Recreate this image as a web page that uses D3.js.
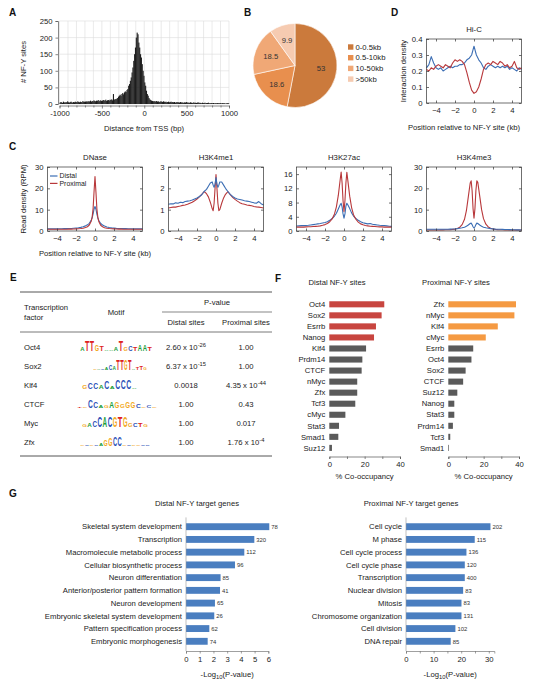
<!DOCTYPE html>
<html><head><meta charset="utf-8">
<script src="https://cdn.jsdelivr.net/npm/d3@7"></script>
<style>
body{margin:0;background:#fff}
svg{font-family:"Liberation Sans",Arial,sans-serif}
</style></head><body>
<svg id="fig" width="533" height="689"></svg>
<script>
// ================= DATA =================
// Panel A: histogram of NF-Y sites vs distance to TSS, 10-bp bins from -1000
const histStart = -1000, histBinWidth = 10;
const histCounts = [
 4,6,5,3,7,5,4,6,5,8,5,4,6,7,5,4,6,5,7,6,5,8,6,5,7,6,5,9,6,7,
 7,8,6,9,7,8,10,7,9,8,11,9,8,10,9,12,8,10,11,9,10,12,11,10,13,9,11,12,10,13,
 12,14,11,30,13,15,14,16,18,22,
 25,28,24,30,33,29,35,38,36,42,
 45,55,60,70,80,95,110,130,150,170,
 200,215,210,185,170,150,140,120,100,85,
 65,55,40,30,25,18,14,12,10,9,
 8,9,7,8,9,7,8,6,7,8,7,6,8,7,6,7,5,6,7,5,6,7,5,6,5,6,4,5,6,5,
 5,4,6,5,4,5,3,5,4,6,4,5,3,4,5,4,3,4,5,3,4,3,4,5,3,4,3,2,4,3,
 3,4,2,3,3,4,2,3,2,3,2,3,2,2,3,2,3,2,2,3,2,2,3,2,2,1,2,2,3,2
];
const histXTicks = [-1000,-500,0,500,1000];
const histYTicks = [0,50,100,150,200,250];

// Panel B: pie
const pieValues = [53, 18.6, 18.5, 9.9];
const pieLabels = ['0-0.5kb','0.5-10kb','10-50kb','>50kb'];

// Panel C: profiles around NF-Y sites (kb)
const profilePos = [-5,-4.75,-4.5,-4.25,-4,-3.75,-3.5,-3.25,-3,-2.75,-2.5,-2.25,-2,-1.75,-1.5,-1.25,-1,
 -0.8,-0.6,-0.4,-0.3,-0.2,-0.1,0,0.1,0.2,0.3,0.4,0.6,0.8,
 1,1.25,1.5,1.75,2,2.25,2.5,2.75,3,3.25,3.5,3.75,4,4.25,4.5,4.75,5];
const dnaseDistal = [1.0,1.0,1.0,1.0,1.0,1.05,1.05,1.1,1.1,1.15,1.2,1.3,1.4,1.5,1.7,2.0,2.4,
 2.9,3.6,5.0,6.2,8.0,10.3,11.5,10.2,7.9,6.1,4.9,3.5,2.8,
 2.3,1.9,1.6,1.45,1.35,1.25,1.2,1.15,1.1,1.1,1.05,1.05,1.0,1.0,1.0,1.0,1.0];
const dnaseProx = [0.8,0.8,0.8,0.8,0.8,0.8,0.85,0.85,0.85,0.9,0.9,0.95,1.0,1.05,1.15,1.3,1.6,
 2.0,2.8,4.6,6.5,10.5,18.5,25.5,18.3,10.3,6.4,4.5,2.7,1.95,
 1.55,1.3,1.15,1.05,1.0,0.95,0.9,0.9,0.85,0.85,0.85,0.8,0.8,0.8,0.8,0.8,0.8];
const k4me1Distal = [1.25,1.28,1.27,1.32,1.3,1.35,1.33,1.38,1.4,1.42,1.45,1.5,1.55,1.62,1.7,1.85,1.95,
 2.1,2.25,2.3,2.15,2.05,2.2,2.5,2.2,2.05,2.15,2.3,2.3,2.15,
 2.0,1.85,1.72,1.62,1.55,1.5,1.48,1.45,1.42,1.4,1.38,1.35,1.32,1.3,1.38,1.28,1.22];
const k4me1Prox = [1.08,1.1,1.12,1.12,1.15,1.17,1.2,1.22,1.25,1.3,1.35,1.42,1.5,1.6,1.72,1.85,1.75,
 1.6,1.35,1.05,0.95,1.3,2.0,2.65,2.0,1.3,0.95,1.0,1.3,1.55,
 1.72,1.85,1.7,1.58,1.48,1.4,1.33,1.28,1.25,1.22,1.2,1.18,1.15,1.13,1.12,1.1,1.08];
const k27acDistal = [1.4,1.45,1.5,1.5,1.55,1.6,1.7,1.8,1.9,2.0,2.1,2.25,2.4,2.6,3.0,3.5,4.2,
 5.0,6.2,7.4,7.8,6.8,4.8,3.6,4.8,7.0,7.8,7.4,6.3,5.1,
 4.2,3.5,3.0,2.6,2.3,2.15,2.0,2.1,1.9,1.8,1.7,1.6,1.55,1.5,1.45,1.35,1.3];
const k27acProx = [1.1,1.1,1.1,1.1,1.15,1.2,1.2,1.25,1.3,1.35,1.45,1.6,1.8,2.1,2.6,3.4,4.8,
 6.8,10.0,14.5,16.6,13.5,8.5,5.5,8.5,13.5,16.5,14.3,9.8,6.6,
 4.6,3.3,2.5,2.0,1.75,1.55,1.45,1.35,1.3,1.25,1.2,1.15,1.15,1.1,1.1,1.1,1.1];
const k4me3Distal = [0.8,0.8,0.8,0.8,0.8,0.8,0.8,0.85,0.85,0.85,0.9,0.95,1.0,1.1,1.3,1.5,1.8,
 2.2,2.8,3.5,3.7,3.0,2.0,1.4,2.0,3.0,3.7,3.5,2.8,2.2,
 1.8,1.5,1.3,1.1,1.0,0.9,0.85,0.8,0.75,0.7,0.7,0.65,0.6,0.6,0.55,0.55,0.5];
const k4me3Prox = [0.5,0.5,0.5,0.5,0.5,0.5,0.55,0.55,0.6,0.6,0.65,0.75,0.9,1.2,1.8,3.0,5.5,
 9.5,16.0,22.5,23.5,19.0,10.5,6.0,10.5,19.0,23.5,22.8,16.5,10.0,
 5.8,3.2,1.9,1.3,0.95,0.75,0.65,0.6,0.6,0.55,0.55,0.5,0.5,0.5,0.5,0.5,0.5];

// Panel D: Hi-C
const hicPos = [-5,-4.75,-4.5,-4.25,-4,-3.75,-3.5,-3.25,-3,-2.75,-2.5,-2.25,-2,-1.75,-1.5,-1.25,-1,-0.75,-0.5,-0.25,
 0,0.25,0.5,0.75,1,1.25,1.5,1.75,2,2.25,2.5,2.75,3,3.25,3.5,3.75,4,4.25,4.5,4.75,5];
const hicDistal = [0.22,0.24,0.29,0.25,0.22,0.21,0.22,0.2,0.21,0.22,0.23,0.22,0.23,0.23,0.24,0.24,0.25,0.27,0.28,0.3,
 0.355,0.3,0.27,0.25,0.22,0.21,0.23,0.24,0.23,0.22,0.23,0.22,0.23,0.22,0.23,0.21,0.22,0.21,0.2,0.22,0.21];
const hicProx = [0.21,0.2,0.22,0.21,0.23,0.24,0.23,0.22,0.24,0.23,0.22,0.25,0.27,0.26,0.27,0.26,0.24,0.19,0.13,0.08,
 0.06,0.07,0.1,0.15,0.21,0.24,0.25,0.24,0.26,0.25,0.24,0.26,0.25,0.23,0.24,0.22,0.23,0.26,0.22,0.21,0.22];

// Panel E: motif table
const tfNames = ['Oct4','Sox2','Klf4','CTCF','Myc','Zfx'];
const distalP = [['2.60 x 10','-26'],['6.37 x 10','-15'],['0.0018',''],['1.00',''],['1.00',''],['1.00','']];
const proximalP = [['1.00',''],['1.00',''],['4.35 x 10','-44'],['0.43',''],['0.017',''],['1.76 x 10','-4']];
const motifLetters = ['ATTGTAAATGCTAAT','GACACATTGTATTG','GCCACACCCA','TGCCAGAGGGGCGCG','GACCACGTGGCTG','GCGCAGGCCGCGGCC'];
const motifHeights = [
 [.35,1,.9,.55,.5,.15,.15,.3,1,.4,.45,.4,.55,.55,.3],
 [.05,.05,.05,.2,.45,.3,1,1,.95,1,.15,.2,.35,.25],
 [.3,.6,.6,.3,.75,.2,.85,.85,.85,.15],
 [.05,.1,.7,.55,.2,.2,.55,.6,.4,.6,.6,.3,.15,.2,.1],
 [.2,.35,.6,.9,.9,.9,.9,.9,.9,.3,.3,.3,.2],
 [.05,.1,.05,.1,.2,.55,.75,.8,.8,.15,.1,.15,.1,.1,.05]
];

// Panel F: co-occupancy
const distalTF = ['Oct4','Sox2','Esrrb','Nanog','Klf4','Prdm14','CTCF','nMyc','Zfx','Tcf3','cMyc','Stat3','Smad1','Suz12'];
const distalOcc = [31.1,29.6,26.4,25.3,20.8,18.7,18.3,15.8,15.8,14.7,9.1,5.5,5.1,1.5];
const proxTF = ['Zfx','nMyc','Klf4','cMyc','Esrrb','Oct4','Sox2','CTCF','Suz12','Nanog','Stat3','Prdm14','Tcf3','Smad1'];
const proxOcc = [38.3,37.4,28.0,21.2,14.1,13.1,9.8,8.4,5.1,3.4,3.4,2.6,1.1,0.4];
const occTicks = [0,20,40];

// Panel G: GO terms
const distalGO = ['Skeletal system development','Transcription','Macromolecule metabolic process','Cellular biosynthetic process','Neuron differentiation','Anterior/posterior pattern formation','Neuron development','Embryonic skeletal system development','Pattern specification process','Embryonic morphogenesis'];
const distalLogP = [6.07,4.98,4.25,3.57,2.52,2.48,2.11,2.06,1.70,1.58];
const distalCount = [78,320,112,96,85,41,65,26,62,74];
const proxGO = ['Cell cycle','M phase','Cell cycle process','Cell cycle phase','Transcription','Nuclear division','Mitosis','Chromosome organization','Cell division','DNA repair'];
const proxLogP = [30.6,24.9,21.9,21.3,21.3,20.7,20.1,20.1,17.9,16.2];
const proxCount = [202,115,136,120,400,83,83,131,102,85];

// ================= DRAW =================
const svg = d3.select('#fig');
svg.append('rect').attr('width',533).attr('height',689).attr('fill','#fff');
const TXT = '#222', BLUE = '#3C6EB4', RED = '#B8383B';
const FS = 7.7;

function panelLabel(x,y,t){
  svg.append('text').attr('x',x).attr('y',y).attr('font-size',10).attr('font-weight','bold').attr('fill','#111').text(t);
}
function txt(x,y,t,opt={}){
  return svg.append('text').attr('x',x).attr('y',y).attr('font-size',opt.fs||FS)
    .attr('text-anchor',opt.anchor||'start').attr('fill',opt.fill||TXT).text(t);
}
function vtxt(x,y,t,fs){
  svg.append('text').attr('transform',`translate(${x},${y}) rotate(-90)`).attr('text-anchor','middle')
   .attr('font-size',fs||FS).attr('fill',TXT).text(t);
}
function styleAxis(g, color, fs){
  g.selectAll('text').attr('font-size',fs||FS).attr('fill',TXT).attr('font-family','"Liberation Sans",Arial,sans-serif');
  g.selectAll('line').attr('stroke',color||'#444').attr('stroke-width',0.7);
  g.select('.domain').attr('stroke',color||'#444').attr('stroke-width',0.7);
}

// ---------- Panel A ----------
panelLabel(9,16,'A');
{
  const x = d3.scaleLinear().domain([-1000,1000]).range([59.5,229]);
  const y = d3.scaleLinear().domain([0,250]).range([104,21]);
  const g = svg.append('g');
  g.selectAll('line.vg').data(d3.range(-1000,1001,100)).join('line')
    .attr('x1',d=>x(d)).attr('x2',d=>x(d)).attr('y1',y(250)).attr('y2',y(0)).attr('stroke','#dcdcdc').attr('stroke-width',0.6);
  g.selectAll('line.hg').data(histYTicks).join('line')
    .attr('x1',x(-1000)).attr('x2',x(1000)).attr('y1',d=>y(d)).attr('y2',d=>y(d)).attr('stroke','#dcdcdc').attr('stroke-width',0.6);
  const bw = x(histBinWidth)-x(0);
  g.selectAll('rect.bar').data(histCounts).join('rect')
    .attr('x',(d,i)=>x(histStart+i*histBinWidth)).attr('width',bw+0.25)
    .attr('y',d=>y(d)).attr('height',d=>y(0)-y(d)).attr('fill','#1e1e1e');
  const ya = svg.append('g').attr('transform',`translate(${x(-1000)-1.5},0)`)
    .call(d3.axisLeft(y).tickValues(histYTicks).tickSize(2.5).tickPadding(3));
  styleAxis(ya,'#555');
  const xa = svg.append('g').attr('transform',`translate(0,${y(0)+1.5})`)
    .call(d3.axisBottom(x).tickValues(d3.range(-1000,1001,100)).tickSize(2).tickFormat(d=>histXTicks.includes(d)?d:''));
  styleAxis(xa,'#555');
  xa.selectAll('.tick').filter(d=>histXTicks.includes(d)).select('line').attr('y2',3);
  vtxt(26,62,'# NF-Y sites');
  txt(144,131,'Distance from TSS (bp)',{anchor:'middle'});
}

// ---------- Panel B ----------
panelLabel(244,16,'B');
{
  const pieColors = ['#CB7A3C','#E88F4E','#F0A876','#F6CBB1'];
  const cx = 295, cy = 65.5, r = 42;
  const arcs = d3.pie().sort(null).value(d=>d)(pieValues);
  const arc = d3.arc().innerRadius(0).outerRadius(r);
  const g = svg.append('g').attr('transform',`translate(${cx},${cy})`);
  g.selectAll('path').data(arcs).join('path').attr('d',arc).attr('fill',(d,i)=>pieColors[i])
    .attr('stroke','#fff').attr('stroke-width',0.6);
  const la = d3.arc().innerRadius(r*0.62).outerRadius(r*0.62);
  g.selectAll('text').data(arcs).join('text').attr('transform',d=>`translate(${la.centroid(d)})`)
    .attr('text-anchor','middle').attr('dy','0.35em').attr('font-size',FS).attr('fill','#333').text(d=>d.data);
  const lg = svg.append('g').attr('transform','translate(348,0)');
  pieLabels.forEach((t,i)=>{
    const yy = 47 + i*10.7;
    lg.append('rect').attr('x',0).attr('y',yy-2.7).attr('width',5.4).attr('height',5.4).attr('fill',pieColors[i]);
    lg.append('text').attr('x',7.5).attr('y',yy+2.7).attr('font-size',FS).attr('fill',TXT).text(t);
  });
}

// ---------- profile plot helper ----------
function profile(cx, yTop, yBot, domY, ticksY, pos, series, title){
  const x = d3.scaleLinear().domain([-5,5]).range([cx-47.5,cx+47.5]);
  const y = d3.scaleLinear().domain(domY).range([yBot,yTop]);
  const g = svg.append('g');
  const line = d3.line().x((d,i)=>x(pos[i])).y(d=>y(d));
  series.forEach(s=>{
    g.append('path').attr('d',line(s.v)).attr('fill','none').attr('stroke',s.c).attr('stroke-width',1.1).attr('stroke-linejoin','round');
  });
  g.append('rect').attr('x',x(-5)).attr('y',yTop).attr('width',x(5)-x(-5)).attr('height',yBot-yTop)
    .attr('fill','none').attr('stroke','#333').attr('stroke-width',0.7);
  const xa = svg.append('g').attr('transform',`translate(0,${yBot})`)
    .call(d3.axisBottom(x).tickValues([-4,-2,0,2,4]).tickSizeInner(-2.5).tickSizeOuter(0).tickPadding(5));
  styleAxis(xa,'#333'); xa.select('.domain').remove();
  const xt = svg.append('g').attr('transform',`translate(0,${yTop})`)
    .call(d3.axisTop(x).tickValues([-4,-2,0,2,4]).tickSizeInner(-2.5).tickSizeOuter(0).tickFormat(''));
  styleAxis(xt,'#333'); xt.select('.domain').remove();
  const ya = svg.append('g').attr('transform',`translate(${x(-5)},0)`)
    .call(d3.axisLeft(y).tickValues(ticksY).tickSizeInner(-2.5).tickSizeOuter(0).tickPadding(4).tickFormat(d=>d));
  styleAxis(ya,'#333'); ya.select('.domain').remove();
  const yr = svg.append('g').attr('transform',`translate(${x(5)},0)`)
    .call(d3.axisRight(y).tickValues(ticksY).tickSizeInner(-2.5).tickSizeOuter(0).tickFormat(''));
  styleAxis(yr,'#333'); yr.select('.domain').remove();
  txt(cx, yTop-7, title, {anchor:'middle', fs:7.8});
  return x;
}

// ---------- Panel C ----------
panelLabel(9,150,'C');
{
  const yT = 167, yB = 231;
  profile(95, yT, yB, [0,30], [0,10,20,30], profilePos, [{v:dnaseDistal,c:BLUE},{v:dnaseProx,c:RED}], 'DNase');
  profile(216, yT, yB, [0,3], [0,1,2,3], profilePos, [{v:k4me1Prox,c:RED},{v:k4me1Distal,c:BLUE}], 'H3K4me1');
  profile(344, yT, yB, [0,18], [0,4,8,12,16], profilePos, [{v:k27acDistal,c:BLUE},{v:k27acProx,c:RED}], 'H3K27ac');
  profile(474, yT, yB, [0,30], [0,10,20,30], profilePos, [{v:k4me3Prox,c:RED},{v:k4me3Distal,c:BLUE}], 'H3K4me3');
  vtxt(26,199,'Read density (RPM)');
  txt(95,256,'Position relative to NF-Y site (kb)',{anchor:'middle'});
  [['Distal',BLUE],['Proximal',RED]].forEach((d,i)=>{
    const yy = 176 + i*7.4;
    svg.append('line').attr('x1',50).attr('x2',57.5).attr('y1',yy).attr('y2',yy).attr('stroke',d[1]).attr('stroke-width',1.2);
    txt(59.5,yy+2.3,d[0],{fs:6.9});
  });
}

// ---------- Panel D ----------
panelLabel(391,16,'D');
{
  profile(474, 39, 103, [0,0.4], [0,0.1,0.2,0.3,0.4], hicPos, [{v:hicDistal,c:BLUE},{v:hicProx,c:RED}], 'Hi-C');
  vtxt(406,71,'Interaction density');
  txt(464,130,'Position relative to NF-Y site (kb)',{anchor:'middle'});
}

// ---------- Panel E ----------
panelLabel(10,281,'E');
{
  const L = 20, R = 272;
  const rule = (y,x1,x2,w)=>svg.append('line').attr('x1',x1).attr('x2',x2).attr('y1',y).attr('y2',y).attr('stroke','#555').attr('stroke-width',w);
  rule(292,L,R,1); rule(312,162,R,0.7); rule(332,L,R,0.8); rule(456,L,R,1);
  txt(24,310,'Transcription'); txt(24,320,'factor');
  txt(116,315,'Motif',{anchor:'middle'});
  txt(217,305,'P-value',{anchor:'middle'});
  txt(186,325,'Distal sites',{anchor:'middle'});
  txt(246,325,'Proximal sites',{anchor:'middle'});
  const letterColor = {A:'#1E9E3A',C:'#2B50B8',G:'#F2A81D',T:'#DD2222'};
  const logoSpan = [[80,152],[93,147],[82,137],[77,157],[82,148],[80,150]];
  const pCell = (x,y,p)=>{
    const t = svg.append('text').attr('x',x).attr('y',y).attr('text-anchor','middle').attr('font-size',FS).attr('fill',TXT);
    t.append('tspan').text(p[0]);
    if(p[1]) t.append('tspan').attr('dy',-3).attr('font-size',5.8).text(p[1]);
  };
  tfNames.forEach((tf,i)=>{
    const yc = 347 + i*19;
    txt(24,yc+2.7,tf);
    pCell(186,yc+2.7,distalP[i]);
    pCell(246,yc+2.7,proximalP[i]);
    const letters = motifLetters[i].split('');
    const [x0,x1] = logoSpan[i];
    const w = (x1-x0)/letters.length;
    const f = w*1.15;            // natural glyph width stays within its slot
    const logo = svg.append('g');
    letters.forEach((Lt,j)=>{
      const h = motifHeights[i][j]*11;
      logo.append('text').attr('transform',`translate(${x0+j*w+w/2},${yc+4}) scale(1,${h/(0.716*f)})`)
        .attr('text-anchor','middle').attr('font-size',f).attr('font-weight','bold')
        .attr('textLength',w*0.9).attr('lengthAdjust','spacingAndGlyphs')
        .attr('fill',letterColor[Lt]).text(Lt);
    });
  });
}

// ---------- Panel F ----------
panelLabel(275,282,'F');
function occChart(names, vals, x0, hiColor, title, titleX){
  const x = d3.scaleLinear().domain([0,40]).range([x0, x0+70.7]);
  const y = d3.scaleBand().domain(names).range([296.3,455.9]).padding(0.45);
  svg.append('g').selectAll('rect').data(vals).join('rect')
    .attr('x',x(0)).attr('y',(d,i)=>y(names[i])).attr('width',d=>x(d)-x(0)).attr('height',y.bandwidth())
    .attr('fill',(d,i)=>i<4?hiColor:'#5A5A5A');
  names.forEach(n=>txt(x0-4,y(n)+y.bandwidth()/2+2.7,n,{anchor:'end'}));
  const xa = svg.append('g').attr('transform',`translate(0,456.5)`)
    .call(d3.axisBottom(x).tickValues([0,10,20,30,40]).tickSize(2.5).tickPadding(2.5).tickFormat(d=>occTicks.includes(d)?d:''));
  styleAxis(xa,'#555');
  txt(titleX,285,title,{anchor:'middle'});
  txt(x(20),479,'% Co-occupancy',{anchor:'middle'});
}
occChart(distalTF, distalOcc, 329.3, '#C8453F', 'Distal NF-Y sites', 337);
occChart(proxTF, proxOcc, 448.3, '#F59A42', 'Proximal NF-Y sites', 456);

// ---------- Panel G ----------
panelLabel(9,497,'G');
function goChart(names, vals, counts, x0, maxX, pxPerUnit, ticks, labTicks, title, titleX){
  const x = d3.scaleLinear().domain([0,maxX]).range([x0, x0+maxX*pxPerUnit]);
  const y = d3.scaleBand().domain(names).range([517.4,650.6]).padding(0.46);
  svg.append('g').selectAll('rect').data(vals).join('rect')
    .attr('x',x(0)).attr('y',(d,i)=>y(names[i])).attr('width',d=>x(d)-x(0)).attr('height',y.bandwidth())
    .attr('fill','#4A7EC0');
  names.forEach((n,i)=>{
    txt(x0-4,y(n)+y.bandwidth()/2+2.7,n,{anchor:'end'});
    txt(x(vals[i])+2,y(n)+y.bandwidth()/2+2.2,counts[i],{fs:5.9,fill:'#333'});
  });
  svg.append('line').attr('x1',x0).attr('x2',x0).attr('y1',517.4).attr('y2',651).attr('stroke','#999').attr('stroke-width',0.6);
  const xa = svg.append('g').attr('transform',`translate(0,651)`)
    .call(d3.axisBottom(x).tickValues(ticks).tickSize(2.5).tickPadding(3).tickFormat(d=>labTicks.includes(d)?d:''));
  styleAxis(xa,'#777');
  txt(titleX,506,title,{anchor:'middle'});
  const t = svg.append('text').attr('x',(x(0)+x(maxX))/2).attr('y',677).attr('text-anchor','middle').attr('font-size',FS).attr('fill',TXT);
  t.append('tspan').text('-Log');
  t.append('tspan').attr('dy',2).attr('font-size',5.9).text('10');
  t.append('tspan').attr('dy',-2).text('(P-value)');
}
goChart(distalGO, distalLogP, distalCount, 186, 6, 13.72, [0,1,2,3,4,5,6], [0,1,2,3,4,5,6], 'Distal NF-Y target genes', 197);
goChart(proxGO, proxLogP, proxCount, 406, 32, 2.76, [0,5,10,15,20,25,30], [0,10,20,30], 'Proximal NF-Y target genes', 411);
</script>
</body></html>
